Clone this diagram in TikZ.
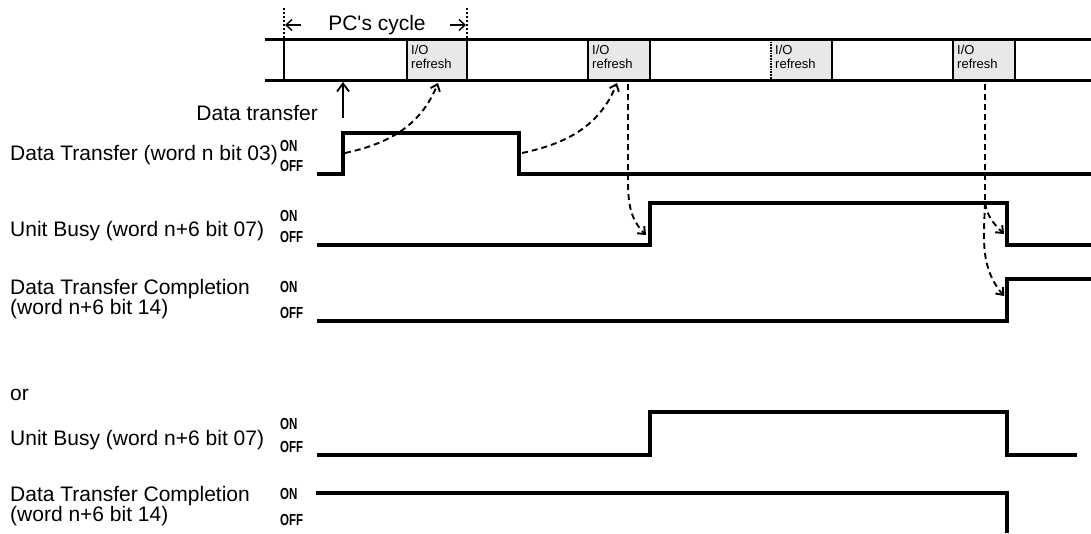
\documentclass[tikz,border=0pt]{standalone}
\usepackage{fontspec}
\setmainfont{Liberation Sans}
\usetikzlibrary{arrows.meta}
\tikzset{
  lbl/.style={font=\fontsize{21}{23}\selectfont, inner sep=0pt},
  lblL/.style={lbl, anchor=west, align=left},
  io/.style={font=\fontsize{13}{14}\selectfont, inner sep=0pt, anchor=north west, align=left},
  onoff/.style={inner sep=0pt, anchor=west},
  barline/.style={line width=3pt},
  divline/.style={line width=1.7pt},
  sig/.style={line width=3.6pt, line join=miter},
  flowline/.style={line width=1.9pt, dash pattern=on 6pt off 4pt},
  flow/.style={flowline, -{Straight Barb[length=6pt,width=10pt,line width=1.9pt]}},
  dim/.style={line width=1.2pt, dash pattern=on 2pt off 2pt},
  dimarrow/.style={line width=1.4pt, -{Straight Barb[length=6pt,width=11pt,line width=1.4pt]}}
}
\newcommand{\sw}[1]{\scalebox{0.72}[1]{\fontsize{16}{16}\selectfont\bfseries #1}}
\begin{document}
\begin{tikzpicture}[x=1pt,y=-1pt]
\useasboundingbox (0,0) rectangle (1091,533);
% I/O refresh boxes
\foreach \a/\b/\n in {407/467/1,588/650/2,771/832/3,953/1015/4}{
  \fill[gray!18] (\a,39) rectangle (\b,80);
  \node[io] (io\n) at (\a+4,45) {I/O\\refresh};
}
% bar
\draw[barline] (265,39) -- (1091,39);
\draw[barline] (265,80) -- (1091,80);
\foreach \x in {284,407,467,588,650,832,953,1015}{
  \draw[divline] (\x,39) -- (\x,80);
}
\draw[divline, densely dotted] (771,39) -- (771,80);
% PC's cycle
\coordinate (c0) at (284,8);
\coordinate (c1) at (467,8);
\draw[dim] (c0) -- (284,39);
\draw[dim] (c1) -- (467,39);
\node[lbl] (pc) at (377,25) {PC{\addfontfeatures{Ligatures=TeXOff}'}s cycle};
\coordinate (la) at (301,25);
\coordinate (lb) at (285,25);
\coordinate (ra) at (450,25);
\coordinate (rb) at (466,25);
\draw[dimarrow] (la) -- (lb);
\draw[dimarrow] (ra) -- (rb);
% Data transfer arrow
\node[lbl, anchor=east] (dt) at (318,113) {Data transfer};
\coordinate (dta) at (343,118);
\coordinate (dtb) at (343,82);
\draw[line width=1.8pt, -{Straight Barb[length=8pt,width=12pt,line width=1.8pt]}] (dta) -- (dtb);
% labels
\node[lblL] (l1) at (10,155) {Data Transfer (word n bit 03)};
\node[lblL] (l2) at (10,231) {Unit Busy (word n+6 bit 07)};
\node[lblL, font=\fontsize{21}{19}\selectfont] (l3) at (10,299) {Data Transfer Completion\\(word n+6 bit 14)};
\node[lblL] (l4) at (10,395) {or};
\node[lblL] (l5) at (10,440) {Unit Busy (word n+6 bit 07)};
\node[lblL, font=\fontsize{21}{19}\selectfont] (l6) at (10,506) {Data Transfer Completion\\(word n+6 bit 14)};
% ON/OFF
\node[onoff] (on1) at (280,146) {\sw{ON}};
\node[onoff] (off1) at (280,166) {\sw{OFF}};
\node[onoff] (on2) at (280,216) {\sw{ON}};
\node[onoff] (off2) at (280,237) {\sw{OFF}};
\node[onoff] (on3) at (280,287) {\sw{ON}};
\node[onoff] (off3) at (280,313) {\sw{OFF}};
\node[onoff] (on4) at (280,424) {\sw{ON}};
\node[onoff] (off4) at (280,447) {\sw{OFF}};
\node[onoff] (on5) at (280,494) {\sw{ON}};
\node[onoff] (off5) at (280,520) {\sw{OFF}};
% signals
\draw[sig] (317,174) -- (343,174) -- (343,133) -- (519,133) -- (519,174) -- (1091,174);
\draw[sig] (317,245) -- (650,245) -- (650,203) -- (1007,203) -- (1007,245) -- (1091,245);
\draw[sig] (317,321) -- (1007,321) -- (1007,279) -- (1091,279);
\draw[sig] (317,455) -- (650,455) -- (650,412) -- (1007,412) -- (1007,455) -- (1077,455);
\draw[sig] (316,493) -- (1007,493) -- (1007,533);
% flow arrows
\coordinate (f1s) at (345,153);
\coordinate (f1e) at (438,83);
\draw[flow] (f1s) to[out=12,in=-112] (f1e);
\coordinate (f2s) at (522,153);
\coordinate (f2e) at (617,83);
\draw[flow] (f2s) to[out=12,in=-112] (f2e);
\coordinate (f3s) at (628,84);
\coordinate (f3m) at (628,180);
\coordinate (f3e) at (646,235);
\draw[flow] (f3s) -- (f3m) to[out=-90,in=135] (f3e);
\coordinate (f4s) at (985,84);
\coordinate (f4m) at (985,203);
\coordinate (f4e) at (1004,234);
\coordinate (f5e) at (1004,296);
\draw[flowline] (f4s) -- (f4m);
\draw[flow] (f4m) to[out=-80,in=135] (f4e);
\draw[flow] (f4m) to[out=-92,in=130] (f5e);
\end{tikzpicture}
\end{document}
